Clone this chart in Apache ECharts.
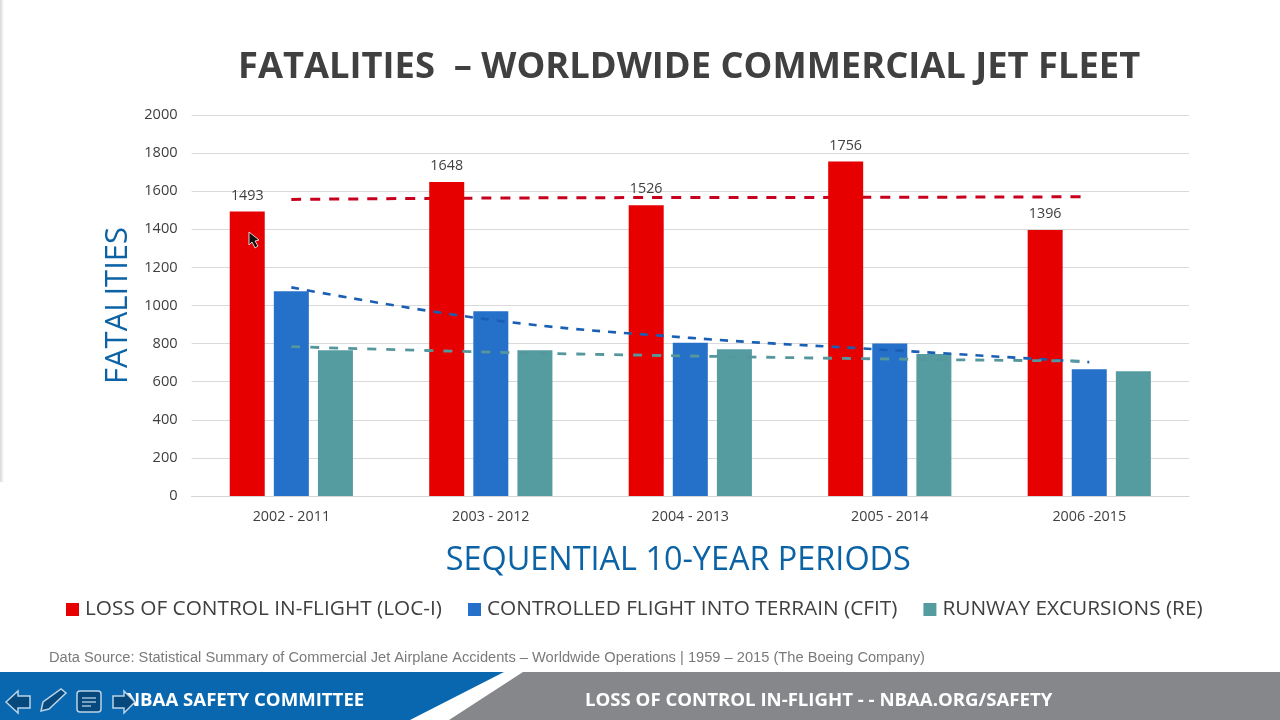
<!DOCTYPE html>
<html><head><meta charset="utf-8">
<style>html,body{margin:0;padding:0;background:#fff}#c{width:1280px;height:720px}</style>
<script src="https://cdn.jsdelivr.net/npm/echarts@6/dist/echarts.min.js"></script>
</head><body><div id="c"></div>
<script>
const periods = ['2002 - 2011','2003 - 2012','2004 - 2013','2005 - 2014','2006 -2015'];
const loci = [1493,1648,1526,1756,1396];
const cfit = [1075,970,805,800,665];
const re = [765,765,770,745,655];
const lociTrend = [1557,1564,1567,1568,1571];
const cfitTrend = [1095,925,830,766,703];
const reTrend = [784,755,735,719,708];
const names = ['LOSS OF CONTROL IN-FLIGHT (LOC-I)','CONTROLLED FLIGHT INTO TERRAIN (CFIT)','RUNWAY EXCURSIONS (RE)'];
const font = '"Open Sans"';
const chart = echarts.init(document.getElementById('c'),null,{renderer:'canvas'});
function bar(name,data,color,label){
  return {type:'bar',name,data,barWidth:35,barGap:'26%',z:2,
    itemStyle:{color},
    label:label?{show:true,position:'top',distance:9,color:'#404040',fontFamily:font,fontSize:14.3}:{show:false}};
}
function trend(name,data,color,w,dash,op,z){
  return {type:'line',name,data,smooth:0.4,symbol:'none',z,silent:true,
    lineStyle:{color,width:w,type:dash,opacity:op,cap:'butt'}};
}
function txt(x,y,t,size,color,weight,extra){
  return {type:'text',x,y,z:20,silent:true,style:Object.assign({text:t,font:(weight||'normal')+' '+size+'px '+font,fill:color,align:'left',verticalAlign:'middle'},extra||{})};
}
function icon(points){
  return {type:'polygon',z:22,silent:true,shape:{points},style:{fill:'#07497d',stroke:'#b9d3e8',lineWidth:1.5}};
}
chart.setOption({
  animation:false,
  backgroundColor:'#fff',
  grid:{left:191.6,right:91,top:115,bottom:224,containLabel:false},
  legend:{
    data:names,left:61,top:594,itemWidth:13,itemHeight:13,itemGap:26,icon:'rect',
    textStyle:{fontFamily:font,fontSize:20.8,color:'#404040',padding:[0,0,0,1]}
  },
  xAxis:{type:'category',data:periods,
    axisLine:{lineStyle:{color:'#d4d4d4',width:1}},axisTick:{show:false},
    axisLabel:{color:'#404040',fontFamily:font,fontSize:14.3,margin:14},
    name:'SEQUENTIAL 10-YEAR PERIODS',nameLocation:'middle',nameGap:49,
    nameTextStyle:{color:'#0b63a5',fontFamily:font,fontSize:32.4,padding:[0,24,0,0]}},
  yAxis:{type:'value',min:0,max:2000,interval:200,
    axisLine:{show:false},axisTick:{show:false},
    splitLine:{lineStyle:{color:'#d9d9d9',width:1}},
    axisLabel:{color:'#404040',fontFamily:font,fontSize:14.6,margin:14,formatter:v=>String(v),padding:[4,0,0,0]},
    name:'FATALITIES',nameLocation:'middle',nameGap:53,nameRotate:90,
    nameTextStyle:{color:'#0b63a5',fontFamily:font,fontSize:31}},
  series:[
    bar(names[0],loci,'#e60000',true),
    bar(names[1],cfit,'#2570c8',false),
    bar(names[2],re,'#559ca1',false),
    trend('LOC-I trend',lociTrend,'#c8001e',3,[10,9],1,1),
    trend('CFIT trend',cfitTrend,'#1a5fb4',2.6,[8,8],1,3),
    trend('RE trend',reTrend,'#55979c',2.8,[9,10],1,3)
  ],
  graphic:[
    txt(238,68,'FATALITIES  – WORLDWIDE COMMERCIAL JET FLEET',36.3,'#404040','bold'),
    txt(49,658,'Data Source: Statistical Summary of Commercial Jet Airplane Accidents – Worldwide Operations | 1959 – 2015 (The Boeing Company)',14.67,'#7a7a7a','normal',{font:'normal 14.67px "Liberation Sans"'}),
    {type:'rect',z:10,silent:true,shape:{x:0,y:0,width:4,height:482},style:{fill:{type:'linear',x:0,y:0,x2:1,y2:0,colorStops:[{offset:0,color:'#d8d8d8'},{offset:1,color:'#ffffff'}]}}},
    {type:'polygon',z:10,silent:true,shape:{points:[[0,672],[504,672],[410,720],[0,720]]},style:{fill:'#0867ae'}},
    {type:'polygon',z:10,silent:true,shape:{points:[[523,672],[1280,672],[1280,720],[449,720]]},style:{fill:'#85878a'}},
    txt(125,701,'NBAA SAFETY COMMITTEE',18.6,'#ffffff','bold'),
    txt(585,701,'LOSS OF CONTROL IN-FLIGHT - - NBAA.ORG/SAFETY',18.6,'#ffffff','bold'),
    icon([[6,702],[18,691],[18,696],[30,696],[30,708],[18,708],[18,713]]),
    icon([[41,711],[43,702],[61,689],[66,693],[49,709]]),
    {type:'rect',z:22,silent:true,shape:{x:77,y:691,width:24,height:21,r:3},style:{fill:'#07497d',stroke:'#b9d3e8',lineWidth:1.5}},
    {type:'line',z:23,silent:true,shape:{x1:82,y1:698,x2:96,y2:698},style:{stroke:'#b9d3e8',lineWidth:1.3}},
    {type:'line',z:23,silent:true,shape:{x1:82,y1:702,x2:96,y2:702},style:{stroke:'#b9d3e8',lineWidth:1.3}},
    {type:'line',z:23,silent:true,shape:{x1:82,y1:706,x2:91,y2:706},style:{stroke:'#b9d3e8',lineWidth:1.3}},
    icon([[113,696],[124,696],[124,691],[135,702],[124,713],[124,708],[113,708]]),
    {type:'polygon',z:30,silent:true,shape:{points:[[249,232],[249,245],[252,242],[255,248],[258,246],[255,241],[259,240]]},style:{fill:'#111',stroke:'#fff',lineWidth:0.8}}
  ]
});
</script></body></html>
